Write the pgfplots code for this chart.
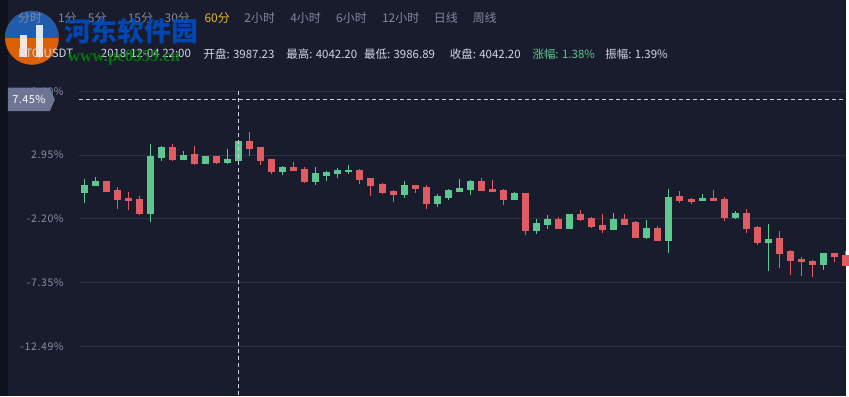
\documentclass[border=0pt]{standalone}
\usepackage{pgfplots}
\pgfplotsset{compat=1.18}
\usepackage{pgfplotstable}
\usepackage{fontspec}
\setmainfont{Noto Sans CJK SC}
\newfontfamily\wmserif{Liberation Serif}
\definecolor{bg}{HTML}{181C2D}
\definecolor{strip}{HTML}{0F121C}
\definecolor{gridc}{HTML}{2C3045}
\definecolor{labc}{HTML}{8A8FA8}
\definecolor{upc}{HTML}{5EC68F}
\definecolor{dnc}{HTML}{E05C62}
\definecolor{txt}{HTML}{D4D7E2}
\definecolor{menu}{HTML}{82879F}
\definecolor{act}{HTML}{E9B53C}
\definecolor{tagc}{HTML}{6E7594}
\definecolor{crossc}{HTML}{CFD1D8}

% x = candle index, o h l c in percent
\pgfplotstableread{
x o h l c
0 -0.04 0.98 -0.95 0.50
1 0.52 1.14 0.52 0.82
6 -1.73 3.88 -2.45 2.83
7 2.78 3.64 2.45 3.56
9 2.61 3.31 2.61 2.89
11 2.29 2.83 2.21 2.83
13 2.37 3.47 2.21 2.59
14 2.53 4.04 2.53 4.04
18 1.65 2.03 1.33 1.95
21 0.85 1.95 0.52 1.46
22 1.30 1.63 0.85 1.55
23 1.46 1.87 1.09 1.71
24 1.63 2.11 1.46 1.71
29 -0.23 0.82 -0.55 0.50
32 -0.95 -0.23 -1.27 -0.39
33 -0.47 0.18 -0.71 0.10
34 0.02 0.98 0.02 0.26
35 0.18 0.90 -0.31 0.82
39 -0.63 -0.06 -0.71 -0.14
41 -3.12 -2.24 -3.44 -2.56
42 -2.64 -1.91 -3.04 -2.24
44 -2.96 -1.83 -2.96 -1.83
48 -3.04 -1.75 -3.12 -2.24
51 -3.68 -2.32 -3.84 -2.96
53 -3.93 0.18 -4.97 -0.47
56 -0.71 -0.23 -0.71 -0.55
59 -2.08 -1.59 -2.24 -1.75
62 -4.09 -2.64 -6.42 -3.84
67 -5.86 -4.97 -6.34 -4.97
}\upt

\pgfplotstableread{
x o h l c
2 0.82 0.82 0.04 0.04
3 0.10 0.34 -1.41 -0.60
4 -0.52 -0.06 -1.51 -0.71
5 -0.63 -0.39 -1.89 -1.73
8 3.56 3.88 2.51 2.61
10 2.99 3.64 2.13 2.29
12 2.83 2.91 2.21 2.37
15 4.04 4.84 2.91 3.47
16 3.56 3.56 2.13 2.53
17 2.59 2.59 1.41 1.65
19 1.95 2.35 1.65 1.73
20 1.79 1.95 0.68 0.82
25 1.71 1.79 0.60 1.01
26 1.06 1.06 -0.36 0.50
27 0.58 0.66 -0.20 -0.04
28 0.02 0.10 -0.84 -0.20
30 0.50 0.50 -0.14 0.26
31 0.34 0.50 -1.43 -0.95
36 0.82 1.06 0.10 0.10
37 0.18 0.90 -0.06 0.02
38 0.10 0.18 -1.11 -0.63
40 -0.14 -0.14 -3.52 -3.12
43 -2.24 -2.08 -2.96 -2.96
45 -1.83 -1.51 -2.40 -2.24
46 -2.16 -2.08 -2.96 -2.80
47 -2.72 -1.83 -3.36 -3.04
49 -2.24 -1.83 -2.72 -2.64
50 -2.48 -2.40 -3.68 -3.68
52 -2.96 -2.80 -4.01 -3.93
54 -0.39 0.02 -0.95 -0.71
55 -0.63 -0.55 -1.03 -0.79
57 -0.55 0.10 -0.71 -0.71
58 -0.63 -0.47 -2.40 -2.08
60 -1.75 -1.43 -3.36 -2.96
61 -2.88 -2.80 -4.33 -4.09
63 -3.76 -3.20 -6.18 -4.97
64 -4.81 -4.73 -6.74 -5.53
65 -5.45 -5.29 -6.82 -5.61
66 -5.61 -5.53 -6.90 -5.86
68 -4.97 -4.97 -5.69 -5.21
69 -5.13 -4.81 -5.94 -5.94
}\dnt

\pgfplotsset{candle/.style={only marks, mark=*, mark size=0pt,
  mark options={draw opacity=0, fill opacity=0}, forget plot,
  error bars/.cd, y dir=both, y explicit, error mark=none}}

\begin{document}
\begin{tikzpicture}[x=1pt,y=1pt]
\fill[bg] (0,0) rectangle (849,397);
\fill[strip] (0,0) rectangle (8,397);

% watermark logo
\begin{scope}[opacity=0.85]
\fill[orange!85!red] (32,359) circle (27);
\fill[blue!55!cyan!80!black] (5,359) arc (180:0:27) -- cycle;
\fill[white] (20,340) rectangle (27,362);
\fill[white] (36,340) rectangle (43,372);
\end{scope}

\begin{axis}[
  at={(79pt,0pt)}, anchor=south west,
  scale only axis, width=770pt, height=317pt,
  xmin=-0.48, xmax=69.08, ymin=-16.47, ymax=9.025,
  axis line style={draw=none},
  xtick=\empty,
  ytick={8.10,2.95,-2.20,-7.35,-12.49},
  yticklabels={8.10\%,2.95\%,-2.20\%,-7.35\%,-12.49\%},
  yticklabel style={font=\fontsize{10.5}{12}\selectfont\addfontfeatures{LetterSpace=6}, text=labc, inner sep=0pt, xshift=-15pt},
  major tick style={draw=none},
  ymajorgrids, major grid style={gridc, line width=1pt},
  clip=false,
]
% wicks
\addplot[candle, error bar style={upc, line width=1pt}]
  table[x=x, y expr={(\thisrow{h}+\thisrow{l})/2}, y error expr={(\thisrow{h}-\thisrow{l})/2}] {\upt};
\addplot[candle, error bar style={dnc, line width=1pt}]
  table[x=x, y expr={(\thisrow{h}+\thisrow{l})/2}, y error expr={(\thisrow{h}-\thisrow{l})/2}] {\dnt};
% bodies
\addplot[candle, error bar style={upc, line width=7pt, line cap=butt}]
  table[x=x, y expr={(\thisrow{o}+\thisrow{c})/2}, y error expr={(\thisrow{c}-\thisrow{o})/2+0.04}] {\upt};
\addplot[candle, error bar style={dnc, line width=7pt, line cap=butt}]
  table[x=x, y expr={(\thisrow{o}+\thisrow{c})/2}, y error expr={(\thisrow{o}-\thisrow{c})/2+0.04}] {\dnt};
% crosshair
\draw[crossc, line width=1pt, dash pattern=on 4pt off 3pt] (axis cs:14,8.10) -- (axis cs:14,-16.47);
\draw[crossc, line width=1pt, dash pattern=on 4pt off 3pt] (axis cs:-0.48,7.45) -- (axis cs:69.08,7.45);
\end{axis}

% crosshair tag
\fill[tagc] (8,285.5) -- (50,285.5) -- (55,297) -- (50,309) -- (8,309) -- cycle;
\node[text=white, font=\fontsize{11}{12}\selectfont\addfontfeatures{LetterSpace=4}, inner sep=0pt] at (29,297) {7.45\%};

% menu row
\begin{scope}[every node/.style={anchor=west, inner sep=0pt, text=menu, font=\fontsize{12}{14}\selectfont}]
\node at (18,379) {分时};
\node at (58,379) {1分};
\node at (88,379) {5分};
\node at (128,379) {15分};
\node at (165,379) {30分};
\node[text=act] at (205,379) {60分};
\node at (245,379) {2小时};
\node at (291,379) {4小时};
\node at (337,379) {6小时};
\node at (383,379) {12小时};
\node at (435,379) {日线};
\node at (474,379) {周线};
\end{scope}

% info row
\begin{scope}[every node/.style={anchor=west, inner sep=0pt, text=txt, font=\fontsize{11.5}{13}\selectfont}]
\node at (18,343) {BTC/USDT};
\node at (101,343) {2018-12-04 22:00};
\node at (204,343) {开盘: 3987.23};
\node at (287,343) {最高: 4042.20};
\node at (365,343) {最低: 3986.89};
\node at (451,343) {收盘: 4042.20};
\node[text=upc] at (534,343) {涨幅: 1.38\%};
\node at (607,343) {振幅: 1.39\%};
\end{scope}

% watermark text
\node[anchor=west, inner sep=0pt, text=blue!60!cyan!75!black, opacity=0.9, font=\fontsize{27}{30}\selectfont\bfseries] at (64,366) {河东软件园};
\node[anchor=west, inner sep=0pt, text=green!55!black, opacity=0.8, font=\wmserif\fontsize{17}{18}\selectfont\bfseries] at (68,339) {www.pc0359.cn};
\end{tikzpicture}
\end{document}
